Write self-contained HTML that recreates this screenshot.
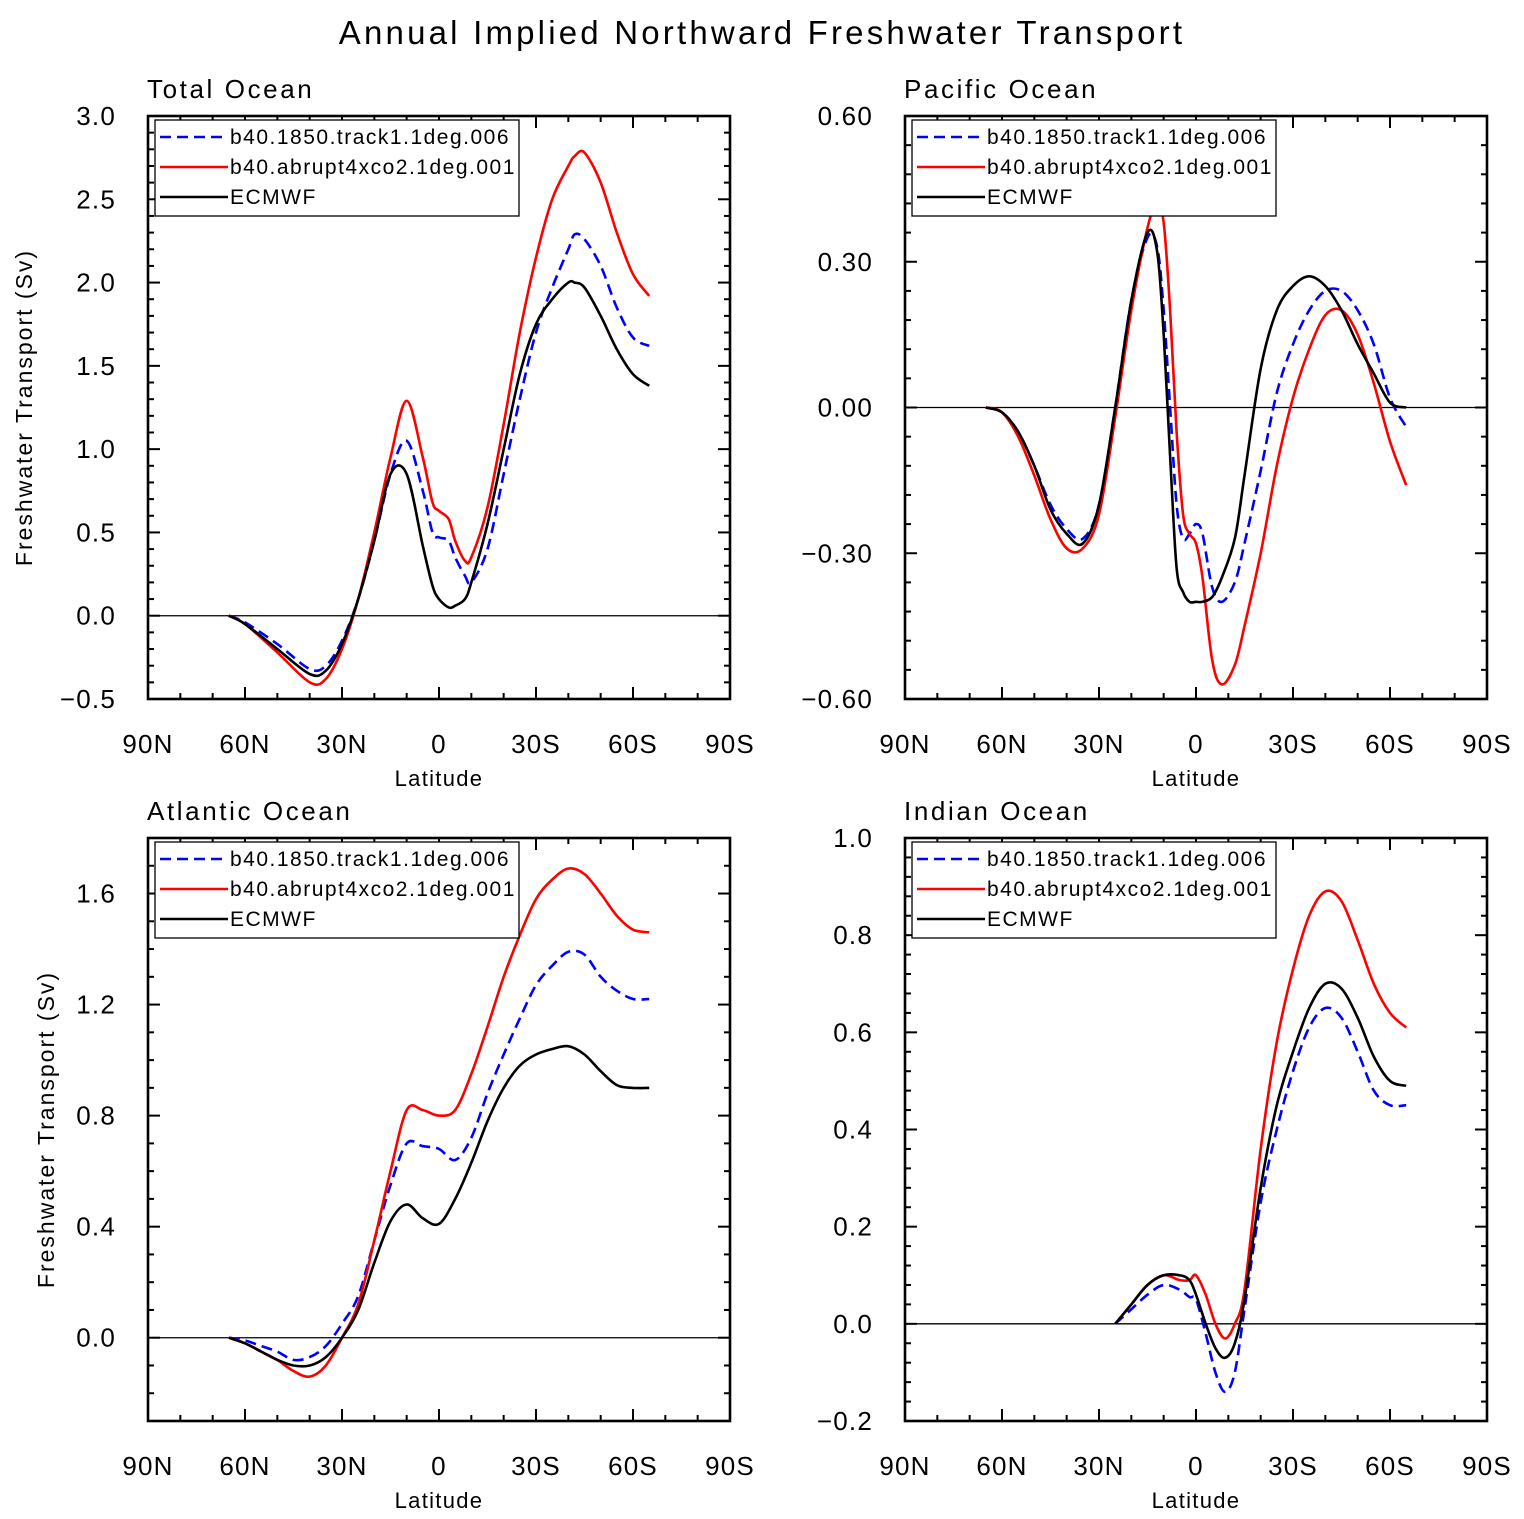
<!DOCTYPE html>
<html><head><meta charset="utf-8"><style>
body{margin:0;background:#fff;}
svg{font-family:"Liberation Sans","DejaVu Sans",sans-serif;}
</style></head><body>
<svg id="chart" width="1524" height="1514" viewBox="0 0 1524 1514" xmlns="http://www.w3.org/2000/svg">
<rect width="1524" height="1514" fill="#fff"/>
<text x="762" y="44" text-anchor="middle" font-size="33" letter-spacing="3.2">Annual Implied Northward Freshwater Transport</text>
</svg>
<script>
const xTickLabels=["90N","60N","30N","0","30S","60S","90S"];
const xTickLats=[90,60,30,0,-30,-60,-90];
const seriesNames=["b40.1850.track1.1deg.006","b40.abrupt4xco2.1deg.001","ECMWF"];

const totalLat=[65,60,50,40,35,30,25,20,15,10,5,2,0,-3,-5,-8,-10,-15,-20,-25,-30,-35,-40,-42,-45,-50,-55,-60,-65];
const totalBlue=[0,-0.04,-0.17,-0.32,-0.3,-0.15,0.1,0.45,0.85,1.05,0.75,0.5,0.47,0.45,0.35,0.24,0.2,0.4,0.85,1.3,1.7,1.97,2.2,2.29,2.26,2.1,1.85,1.67,1.62];
const totalRed=[0,-0.05,-0.22,-0.4,-0.38,-0.2,0.1,0.5,0.95,1.29,0.95,0.68,0.63,0.58,0.45,0.33,0.35,0.65,1.15,1.7,2.15,2.5,2.7,2.76,2.78,2.6,2.3,2.05,1.92];
const totalBlack=[0,-0.05,-0.2,-0.35,-0.33,-0.17,0.1,0.45,0.85,0.85,0.42,0.18,0.1,0.05,0.06,0.1,0.2,0.55,1.0,1.45,1.75,1.9,2.0,2.0,1.97,1.8,1.6,1.45,1.38];

const pacLat=[65,60,55,50,45,40,35,30,25,20,15,12,10,8,6,4,2,0,-2,-5,-8,-12,-15,-20,-25,-30,-35,-40,-45,-50,-55,-60,-65];
const pacBlue=[0,-0.01,-0.05,-0.12,-0.2,-0.25,-0.27,-0.2,0.0,0.22,0.35,0.33,0.2,0.0,-0.2,-0.27,-0.26,-0.24,-0.26,-0.37,-0.4,-0.36,-0.28,-0.13,0.03,0.13,0.2,0.24,0.24,0.2,0.13,0.02,-0.04];
const pacRed=[0,-0.01,-0.06,-0.14,-0.23,-0.29,-0.29,-0.22,-0.02,0.2,0.37,0.42,0.38,0.2,-0.05,-0.22,-0.26,-0.28,-0.35,-0.52,-0.57,-0.53,-0.45,-0.3,-0.12,0.02,0.12,0.19,0.2,0.15,0.05,-0.07,-0.16];
const pacBlack=[0,-0.01,-0.05,-0.12,-0.21,-0.26,-0.28,-0.2,0.0,0.22,0.36,0.32,0.15,-0.1,-0.33,-0.38,-0.4,-0.4,-0.4,-0.39,-0.35,-0.27,-0.14,0.08,0.2,0.25,0.27,0.25,0.2,0.13,0.07,0.01,0.0];

const atlLat=[65,60,55,50,45,40,35,30,25,20,15,10,5,0,-5,-10,-15,-20,-25,-30,-35,-40,-45,-50,-55,-60,-65];
const atlBlue=[0,-0.01,-0.03,-0.05,-0.08,-0.07,-0.03,0.05,0.15,0.35,0.55,0.7,0.69,0.68,0.64,0.72,0.88,1.02,1.15,1.27,1.34,1.39,1.38,1.3,1.25,1.22,1.22];
const atlRed=[0,-0.02,-0.05,-0.08,-0.12,-0.14,-0.1,0.0,0.12,0.35,0.6,0.82,0.82,0.8,0.82,0.95,1.12,1.3,1.45,1.58,1.65,1.69,1.67,1.6,1.52,1.47,1.46];
const atlBlack=[0,-0.02,-0.05,-0.08,-0.1,-0.1,-0.07,0.0,0.1,0.27,0.42,0.48,0.43,0.41,0.5,0.63,0.78,0.9,0.98,1.02,1.04,1.05,1.02,0.96,0.91,0.9,0.9];

const indLat=[25,20,15,10,5,2,0,-3,-6,-9,-12,-15,-20,-25,-30,-35,-40,-45,-50,-55,-60,-65];
const indBlue=[0,0.03,0.06,0.08,0.07,0.055,0.05,-0.02,-0.1,-0.14,-0.1,0.03,0.25,0.4,0.52,0.61,0.65,0.63,0.56,0.48,0.45,0.45];
const indRed=[0,0.04,0.08,0.1,0.09,0.09,0.1,0.06,0.0,-0.03,0.0,0.07,0.36,0.58,0.73,0.84,0.89,0.87,0.79,0.7,0.64,0.61];
const indBlack=[0,0.04,0.08,0.1,0.1,0.09,0.06,0.0,-0.05,-0.07,-0.04,0.05,0.28,0.45,0.56,0.65,0.7,0.69,0.63,0.55,0.5,0.49];

const totalTicks=[3.0,2.5,2.0,1.5,1.0,0.5,0.0,-0.5];
const totalTickLabels=["3.0","2.5","2.0","1.5","1.0","0.5","0.0","\u22120.5"];
const pacTicks=[0.6,0.3,0,-0.3,-0.6];
const pacTickLabels=["0.60","0.30","0.00","\u22120.30","\u22120.60"];
const atlTicks=[1.6,1.2,0.8,0.4,0.0];
const atlTickLabels=["1.6","1.2","0.8","0.4","0.0"];
const indTicks=[1.0,0.8,0.6,0.4,0.2,0.0,-0.2];
const indTickLabels=["1.0","0.8","0.6","0.4","0.2","0.0","\u22120.2"];

const NS="http://www.w3.org/2000/svg";
const svg=document.getElementById('chart');
function mk(tag,attrs,parent){const e=document.createElementNS(NS,tag);for(const k in attrs)e.setAttribute(k,attrs[k]);(parent||svg).appendChild(e);return e;}
function smooth(pts){let d="M"+pts[0][0].toFixed(1)+","+pts[0][1].toFixed(1);
 for(let i=0;i<pts.length-1;i++){const p0=pts[Math.max(0,i-1)],p1=pts[i],p2=pts[i+1],p3=pts[Math.min(pts.length-1,i+2)];
 const c1=[p1[0]+(p2[0]-p0[0])/6,p1[1]+(p2[1]-p0[1])/6],c2=[p2[0]-(p3[0]-p1[0])/6,p2[1]-(p3[1]-p1[1])/6];
 d+=" C"+c1[0].toFixed(1)+","+c1[1].toFixed(1)+" "+c2[0].toFixed(1)+","+c2[1].toFixed(1)+" "+p2[0].toFixed(1)+","+p2[1].toFixed(1);}return d;}

function panel(o){
 const g=mk('g',{});
 
 
 const L=o.x,R=o.x+582,T=o.y,B=o.y+583;
 const xs=lat=>L+(90-lat)/180*582;
 const ys=v=>T+(o.ymax-v)/(o.ymax-o.ymin)*583;
 const t=mk('text',{x:L-1,y:T-18,'font-size':26,'letter-spacing':2.6},g);t.textContent=o.title;
 
 
 const z=mk('line',{x1:L,x2:R,y1:ys(0),y2:ys(0),stroke:'#000','stroke-width':1.3},g);
 
 
 const cols=['#0000ff','#ff0000','#000'];
 o.series.forEach((s,i)=>{const pts=o.lat.map((la,j)=>[xs(la),ys(s[j])]);
  const p=mk('path',{d:smooth(pts),fill:'none',stroke:cols[i],'stroke-width':2.6,'stroke-dasharray':i==0?'11,6':'none'},g);
  
  });
 const fr=mk('rect',{x:L,y:T,width:582,height:583,fill:'none',stroke:'#000','stroke-width':2.6},g);
 
 
 for(let lat=90;lat>=-90;lat-=10){const x=xs(lat);const major=lat%30==0;const len=major?12:6;
  mk('line',{x1:x,x2:x,y1:B,y2:B-len,stroke:'#000','stroke-width':2},g);
  mk('line',{x1:x,x2:x,y1:T,y2:T+len,stroke:'#000','stroke-width':2},g);}
 xTickLats.forEach((lat,i)=>{const tx=mk('text',{x:xs(lat),y:B+54,'text-anchor':'middle','font-size':26,'letter-spacing':1.2},g);tx.textContent=xTickLabels[i];
  
  });
 const xl=mk('text',{x:(L+R)/2,y:B+87,'text-anchor':'middle','font-size':22,'letter-spacing':1.3},g);xl.textContent='Latitude';
 
 
 for(let v=o.ymin;v<=o.ymax+1e-9;v+=o.minor){const y=ys(v);
  const isMajor=o.ticks.some(tv=>Math.abs(tv-v)<1e-6);const len=isMajor?12:6;
  mk('line',{x1:L,x2:L+len,y1:y,y2:y,stroke:'#000','stroke-width':2},g);
  mk('line',{x1:R,x2:R-len,y1:y,y2:y,stroke:'#000','stroke-width':2},g);}
 o.ticks.forEach((v,i)=>{const tx=mk('text',{x:L-32,y:ys(v)+9,'text-anchor':'end','font-size':26,'letter-spacing':1.2},g);tx.textContent=o.tickLabels[i];
  
  });
 if(o.ytitle){const yt=mk('text',{x:0,y:0,'text-anchor':'middle','font-size':23,'letter-spacing':2,transform:`translate(${o.ytx},${(T+B)/2}) rotate(-90)`},g);yt.textContent='Freshwater Transport (Sv)';
  
  }
 const lg=mk('g',{},g);
 
 
 mk('rect',{x:L+7,y:T+4,width:364,height:96,fill:'#fff',stroke:'#000','stroke-width':1.3},lg);
 seriesNames.forEach((n,i)=>{const y=T+21+i*30;
  mk('line',{x1:L+12,x2:L+80,y1:y,y2:y,stroke:cols[i],'stroke-width':2.6,'stroke-dasharray':i==0?'11,6':'none'},lg);
  const tx=mk('text',{x:L+82,y:y+7,'font-size':21,'letter-spacing':1.5},lg);tx.textContent=n;
  
  });
}
panel({name:'total-ocean-panel',title:'Total Ocean',x:148,y:116,ymin:-0.5,ymax:3.0,minor:0.1,ticks:totalTicks,tickLabels:totalTickLabels,lat:totalLat,series:[totalBlue,totalRed,totalBlack],ytitle:true,ytx:32});
panel({name:'pacific-ocean-panel',title:'Pacific Ocean',x:905,y:116,ymin:-0.6,ymax:0.6,minor:0.06,ticks:pacTicks,tickLabels:pacTickLabels,lat:pacLat,series:[pacBlue,pacRed,pacBlack]});
panel({name:'atlantic-ocean-panel',title:'Atlantic Ocean',x:148,y:838,ymin:-0.3,ymax:1.8,minor:0.1,ticks:atlTicks,tickLabels:atlTickLabels,lat:atlLat,series:[atlBlue,atlRed,atlBlack],ytitle:true,ytx:54});
panel({name:'indian-ocean-panel',title:'Indian Ocean',x:905,y:838,ymin:-0.2,ymax:1.0,minor:0.04,ticks:indTicks,tickLabels:indTickLabels,lat:indLat,series:[indBlue,indRed,indBlack]});
</script>
</body></html>
